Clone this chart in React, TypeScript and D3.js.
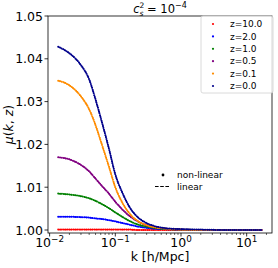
import React from 'react';
import * as d3 from 'd3';

const kValues = [0.0135, 0.02, 0.03, 0.04, 0.05, 0.06, 0.08, 0.1, 0.13, 0.17, 0.22, 0.3, 0.4, 0.6, 1, 2, 5, 10, 17];

// mu(k,z) per redshift
const muZ10 = [1.0001, 1.0001, 1.0001, 1.0001, 1.0001, 1.0001, 1.0001, 1.0001, 1.0001, 1.0001, 1.0, 1.0, 1.0, 1.0, 1.0, 1.0, 1.0, 1.0, 1.0];
const muZ2  = [1.0031, 1.0031, 1.0030, 1.0029, 1.0027, 1.0026, 1.0023, 1.0020, 1.0016, 1.0012, 1.0008, 1.0005, 1.0003, 1.0002, 1.0001, 1.0, 1.0, 1.0, 1.0];
const muZ1  = [1.0085, 1.0083, 1.0079, 1.0074, 1.0068, 1.0062, 1.0051, 1.0041, 1.0030, 1.0020, 1.0013, 1.0008, 1.0005, 1.0002, 1.0001, 1.0, 1.0, 1.0, 1.0];
const muZ05 = [1.0170, 1.0165, 1.0152, 1.0137, 1.0120, 1.0106, 1.0085, 1.0066, 1.0047, 1.0031, 1.0020, 1.0011, 1.0007, 1.0003, 1.0001, 1.0, 1.0, 1.0, 1.0];
const muZ01 = [1.0349, 1.0338, 1.0312, 1.0282, 1.0245, 1.0208, 1.0148, 1.0100, 1.0062, 1.0036, 1.0021, 1.0011, 1.0006, 1.0003, 1.0001, 1.0, 1.0, 1.0, 1.0];
const muZ0  = [1.0428, 1.0413, 1.0385, 1.0352, 1.0305, 1.0262, 1.0190, 1.0130, 1.0085, 1.0050, 1.0030, 1.0016, 1.0009, 1.0004, 1.0002, 1.0001, 1.0, 1.0, 1.0];

const zLabels = ['z=10.0', 'z=2.0', 'z=1.0', 'z=0.5', 'z=0.1', 'z=0.0'];
const zColors = ['#ff0000', '#0000ff', '#008000', '#800080', '#ff8c00', '#00008b'];
const series = [muZ10, muZ2, muZ1, muZ05, muZ01, muZ0];

const yTicks = [1.0, 1.01, 1.02, 1.03, 1.04, 1.05];

const font = "'DejaVu Sans', sans-serif";
const W = 278, H = 268;
const M = { left: 48, right: 272, top: 16, bottom: 233 };

export default function App() {
  // matplotlib style 5% margin in log space
  const lo = Math.log10(d3.min(kValues)!), hi = Math.log10(d3.max(kValues)!);
  const pad = 0.05 * (hi - lo);
  const x = d3.scaleLog().domain([10 ** (lo - pad), 10 ** (hi + pad)]).range([M.left, M.right]);
  const y = d3.scaleLinear().domain([0.9993, 1.05]).range([M.bottom, M.top]);

  const line = d3.line<number>().x((_, i) => x(kValues[i])).y(d => y(d)).curve(d3.curveMonotoneX);

  const allTicks = x.ticks();
  const majors = allTicks.filter(t => Math.abs(Math.log10(t) - Math.round(Math.log10(t))) < 1e-9);
  const minors = allTicks.filter(t => !majors.includes(t));

  const legX = 201, legY = 16, legRow = 12.4;

  return (
    <svg width={W} height={H} style={{ position: 'absolute', left: 0, top: 0, background: '#fff' }} fontFamily={font}>
      <defs>
        <clipPath id="plot"><rect x={M.left} y={M.top} width={M.right - M.left} height={M.bottom - M.top} /></clipPath>
      </defs>

      {/* curves: linear as dashes, non-linear as dense dots */}
      <g clipPath="url(#plot)">
        {series.map((s, i) => (
          <g key={i}>
            <path d={line(s)!} fill="none" stroke={zColors[i]} strokeWidth={1.2} strokeDasharray="3.6 1.6" />
            <path d={line(s)!} fill="none" stroke={zColors[i]} strokeWidth={2} strokeLinecap="round" strokeDasharray="0 1.9" />
          </g>
        ))}
      </g>

      {/* frame */}
      <rect x={M.left} y={M.top} width={M.right - M.left} height={M.bottom - M.top} fill="none" stroke="#000" strokeWidth={0.8} />

      {/* y axis */}
      {yTicks.map(t => (
        <g key={t}>
          <line x1={M.left - 3.5} x2={M.left} y1={y(t)} y2={y(t)} stroke="#000" strokeWidth={0.8} />
          <text x={M.left - 5} y={y(t)} dy="0.36em" textAnchor="end" fontSize={12.5}>{t.toFixed(2)}</text>
        </g>
      ))}

      {/* x axis */}
      {minors.map(t => (
        <line key={'m' + t} x1={x(t)} x2={x(t)} y1={M.bottom} y2={M.bottom + 2} stroke="#000" strokeWidth={0.6} />
      ))}
      {majors.map(t => (
        <g key={t}>
          <line x1={x(t)} x2={x(t)} y1={M.bottom} y2={M.bottom + 3.5} stroke="#000" strokeWidth={0.8} />
          <text x={x(t)} y={247} textAnchor="middle" fontSize={12.5}>
            10<tspan fontSize={8.8} dy={-5}>{String(Math.round(Math.log10(t))).replace('-', '\u2212')}</tspan>
          </text>
        </g>
      ))}

      {/* axis labels */}
      <text x={(M.left + M.right) / 2} y={261} textAnchor="middle" fontSize={12.5}>k [h/Mpc]</text>
      <text transform={`translate(12.5,${(M.top + M.bottom) / 2}) rotate(-90)`} textAnchor="middle" fontSize={12.5}>
        <tspan fontStyle="italic">μ</tspan>(<tspan fontStyle="italic">k</tspan>, <tspan fontStyle="italic">z</tspan>)
      </text>

      {/* title: c_s^2 = 10^-4 */}
      <text x={(M.left + M.right) / 2} y={12.5} textAnchor="middle" fontSize={11.5}>
        <tspan fontStyle="italic">c</tspan>
        <tspan fontSize={7.5} dy={-5}>2</tspan>
        <tspan fontSize={7.5} fontStyle="italic" dx={-4.8} dy={8}>s</tspan>
        <tspan dy={-3}>{' = 10'}</tspan>
        <tspan fontSize={8} dy={-4.5}>{'\u22124'}</tspan>
      </text>

      {/* redshift legend */}
      <rect x={legX} y={legY} width={72} height={77} rx={2} fill="#fff" fillOpacity={0.8} stroke="#d0d0d0" strokeWidth={0.8} />
      {zLabels.map((lab, i) => (
        <g key={lab}>
          <circle cx={legX + 12} cy={legY + 8 + i * legRow} r={1.1} fill={zColors[i]} />
          <text x={legX + 29} y={legY + 8 + i * legRow} dy="0.35em" fontSize={9}>{lab}</text>
        </g>
      ))}

      {/* style legend */}
      <circle cx={163} cy={175} r={1.4} fill="#000" />
      <text x={177} y={175} dy="0.35em" fontSize={9}>non-linear</text>
      <line x1={155} x2={170} y1={186.5} y2={186.5} stroke="#000" strokeWidth={1.1} strokeDasharray="3.6 1.6" />
      <text x={177} y={186.5} dy="0.35em" fontSize={9}>linear</text>
    </svg>
  );
}
